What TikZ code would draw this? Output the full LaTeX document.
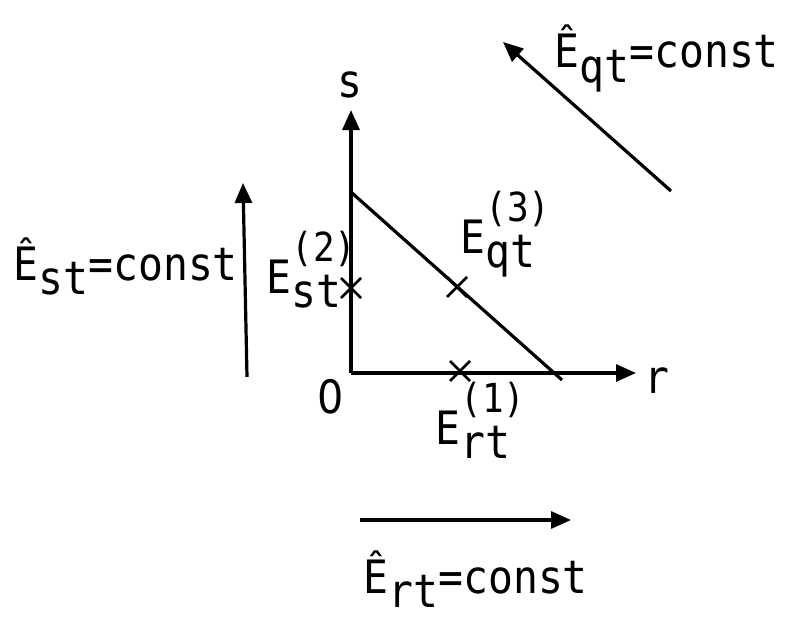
\documentclass[tikz,border=0pt]{standalone}
\usepackage{fontspec}
\setmainfont[FakeStretch=0.9]{DejaVu Sans Mono}
\newfontfamily\zerofont[FakeStretch=0.9]{DejaVu Sans}
\usetikzlibrary{arrows.meta,calc}
\newcommand{\lowsub}[1]{\raisebox{-0.32em}{#1}}
\newcommand{\Esupsub}[2]{E\makebox[0pt][l]{\raisebox{0.68em}{\fontsize{40}{44}\selectfont #2}}\lowsub{#1}}
\begin{document}
\begin{tikzpicture}[x=1pt,y=-1pt,
  line width=3.2pt,
  lbl/.style={inner sep=0pt,font=\fontsize{46}{50}\selectfont},
  arr/.style={-{Triangle[length=20pt,width=17pt]}},
  crossmark/.style={line width=2.6pt}]
\useasboundingbox (0,0) rectangle (785,618);
% axes
\coordinate (O) at (351,373);
\coordinate (stip) at (351,110);
\coordinate (rtip) at (636,373);
\draw[arr] (O) -- (stip);
\draw[arr] (O) -- (rtip);
% hypotenuse
\coordinate (h1) at (352,193);
\coordinate (h2) at (562,380);
\draw (h1) -- (h2);
% crosses
\coordinate (c2) at (351,288);
\coordinate (c3) at (457,287);
\coordinate (c1) at (460,371);
\draw[crossmark] ($(c2)+(-10,-10)$) -- ($(c2)+(10,10)$) ($(c2)+(-10,10)$) -- ($(c2)+(10,-10)$);
\draw[crossmark] ($(c3)+(-10,-10)$) -- ($(c3)+(10,10)$) ($(c3)+(-10,10)$) -- ($(c3)+(10,-10)$);
\draw[crossmark] ($(c1)+(-10,-10)$) -- ($(c1)+(10,10)$) ($(c1)+(-10,10)$) -- ($(c1)+(10,-10)$);
% axis labels
\node[lbl,anchor=base east] (zero) at (345,413) {\zerofont 0};
\node[lbl,anchor=base west] (rl) at (643,393) {r};
\node[lbl,anchor=base] (sl) at (350,97) {s};
% point labels
\node[lbl,anchor=base west] (e2) at (265,293) {\Esupsub{st}{(2)}};
\node[lbl,anchor=base west] (e3) at (459,253) {\Esupsub{qt}{(3)}};
\node[lbl,anchor=base west] (e1) at (434,444) {\Esupsub{rt}{(1)}};
% direction arrows
\coordinate (la1) at (247,377);
\coordinate (la2) at (243,183);
\draw[arr] (la1) -- (la2);
\coordinate (ta1) at (671,191);
\coordinate (ta2) at (503,42);
\draw[arr] (ta1) -- (ta2);
\coordinate (ba1) at (360,520);
\coordinate (ba2) at (571,520);
\draw[arr] (ba1) -- (ba2);
% const labels
\node[lbl,anchor=base west] (cst) at (12,280) {Ê\lowsub{st}=const};
\node[lbl,anchor=base west] (cqt) at (553,68) {Ê\lowsub{qt}=const};
\node[lbl,anchor=base west] (crt) at (362,593) {Ê\lowsub{rt}=const};
\end{tikzpicture}
\end{document}
